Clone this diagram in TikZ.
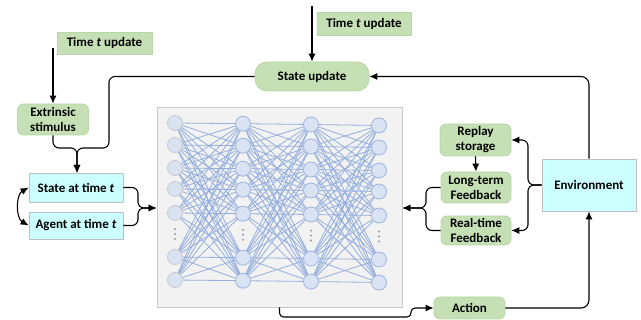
\documentclass[tikz,border=0pt]{standalone}
\usepackage{fontspec}
\setmainfont{Carlito}
\usetikzlibrary{arrows.meta}
\definecolor{gfill}{HTML}{C5E0B4}
\definecolor{gdraw}{HTML}{B9D6A6}
\definecolor{cfill}{HTML}{CCFFFF}
\definecolor{cdraw}{HTML}{BFBFBF}
\definecolor{nnbg}{HTML}{F2F2F2}
\definecolor{nndraw}{HTML}{C8C8C8}
\definecolor{nfill}{HTML}{DAE3F3}
\definecolor{ndraw}{HTML}{9DB5E3}
\definecolor{edgec}{HTML}{94AEDF}
\tikzset{
  lbl/.style={font=\bfseries\fontsize{13}{15}\selectfont, align=center, inner sep=0pt},
  gbox/.style={lbl, rounded corners=6, fill=gfill, draw=gdraw, line width=0.8pt},
  tbox/.style={lbl, fill=gfill, draw=gdraw, line width=0.8pt},
  cbox/.style={lbl, fill=cfill, draw=cdraw, line width=0.8pt},
  nnbox/.style={fill=nnbg, draw=nndraw, line width=0.9pt, inner sep=0pt},
  neuron/.style={circle, fill=nfill, draw=ndraw, line width=0.8pt, minimum size=15pt, inner sep=0pt},
  neurong/.style={neuron, draw=nndraw},
  edge/.style={draw=edgec, line width=0.8pt},
  conn/.style={draw=black, line width=1.1pt, rounded corners=6},
  arr/.style={conn, -{Latex[length=8pt,width=7pt]}},
  darr/.style={conn, {Latex[length=8pt,width=7pt]}-{Latex[length=8pt,width=7pt]}},
  vdot/.style={circle, fill=gray!80, inner sep=0pt, minimum size=2.2pt}
}
\begin{document}
\begin{tikzpicture}[x=1pt,y=-1pt]
\useasboundingbox (0,0) rectangle (641,320);
% neural net background
\node[nnbox, minimum width=245pt, minimum height=200pt] (nn) at (279.5,207) {};
% neuron coordinates
\foreach \x/\s [count=\i] in {175/0,243/0.7,311/1.5,379/2.5}{
  \foreach \y [count=\j] in {123,145,168,189,213,257,280}{
    \coordinate (p\i\j) at (\x,\y+\s);
  }
  \foreach \d [count=\k] in {229,234,239}{
    \node[vdot] (d\i\k) at (\x,\d+\s) {};
  }
}
\foreach \i/\k in {1/2,2/3,3/4}{
  \foreach \a in {1,...,7}{
    \foreach \b in {1,...,7}{
      \draw[edge] (p\i\a) -- (p\k\b);
    }
  }
}
\foreach \j in {1,...,7}{
  \node[neurong] (n1\j) at (p1\j) {};
  \node[neuron] (n2\j) at (p2\j) {};
  \node[neuron] (n3\j) at (p3\j) {};
  \node[neuron] (n4\j) at (p4\j) {};
}
% nodes
\node[tbox, minimum width=94pt, minimum height=23pt] (tu1) at (364,23.5) {Time \textit{t} update};
\node[gbox, rounded corners=12, minimum width=114pt, minimum height=29pt] (su) at (312,76.5) {State update};
\node[tbox, minimum width=95pt, minimum height=22pt] (tu2) at (104.5,43) {Time \textit{t} update};
\node[gbox, minimum width=71pt, minimum height=31pt] (es) at (53,119.5) {Extrinsic\\stimulus};
\node[cbox, minimum width=94pt, minimum height=29pt] (sat) at (76,187.5) {State at time \textit{t}};
\node[cbox, minimum width=94pt, minimum height=27pt] (aat) at (76,225.5) {Agent at time \textit{t}};
\node[gbox, minimum width=71pt, minimum height=32pt] (rs) at (475.5,140) {Replay\\storage};
\node[gbox, minimum width=70pt, minimum height=31pt] (lt) at (476,187.5) {Long-term\\Feedback};
\node[gbox, minimum width=70pt, minimum height=29pt] (rt) at (476,230.5) {Real-time\\Feedback};
\node[cbox, minimum width=94pt, minimum height=52pt] (env) at (589,185) {Environment};
\node[gbox, minimum width=71pt, minimum height=22pt] (act) at (469.5,308) {Action};
% free ends
\coordinate (top1) at (312,6);
\coordinate (top2) at (53,48);
% connectors
\draw[arr] (top1) -- (su.north);
\draw[arr] (top2) -- (es.north);
\draw[arr] (su.west) -- (109,76.5) -- (109,148) -- (77,148) -- (77,173);
\draw[arr] (es.south) -- (53,148) -- (77,148) -- (77,173);
\draw[darr] (sat.west) to[out=210,in=150] (aat.west);
\draw[arr] (sat.east) -- (138,187.5) -- (138,208) -- (nn.west |- 0,208);
\draw[arr] (aat.east) -- (138,225.5) -- (138,208) -- (nn.west |- 0,208);
\draw[arr] (lt.west) -- (426,187.5) -- (426,208) -- (nn.east |- 0,208);
\draw[arr] (rt.west) -- (426,230.5) -- (426,208) -- (nn.east |- 0,208);
\draw[arr] (rs.south) -- (lt.north);
\draw[arr] (env.west) -- (528,185) -- (528,140) -- (rs.east);
\draw[arr] (env.west) -- (528,185) -- (528,230.5) -- (rt.east);
\draw[arr, rounded corners=8] (env.north) -- (589,76.5) -- (su.east);
\draw[arr, rounded corners=8] (act.east) -- (589,308) -- (env.south);
\draw[arr, rounded corners=4] (nn.south) -- (279.5,317) -- (411,317) -- (411,308) -- (act.west);
\end{tikzpicture}
\end{document}
